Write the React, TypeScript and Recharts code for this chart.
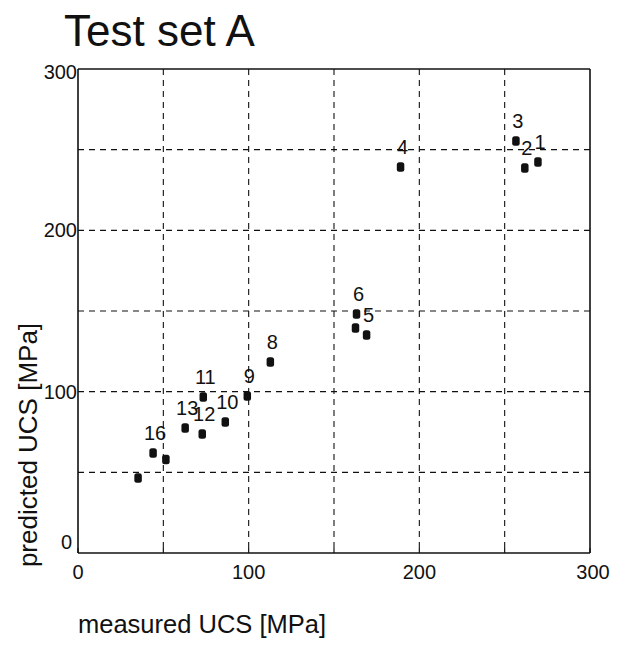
import React from 'react';
import { ScatterChart, Scatter, XAxis, YAxis, CartesianGrid, ReferenceLine, LabelList } from 'recharts';

const pointIds = ['1', '2', '3', '4', '5', '6', '7', '8', '9', '10', '11', '12', '13', '14', '15', '16'];
const measuredUCS = [269.5, 261.8, 256.6, 189.0, 169.1, 163.2, 162.6, 112.7, 99.2, 86.3, 73.4, 72.8, 62.8, 51.5, 35.2, 44.0];
const predictedUCS = [242.4, 238.6, 255.4, 239.3, 135.1, 148.1, 139.5, 118.4, 97.3, 81.2, 96.7, 73.8, 77.5, 58.0, 46.5, 62.0];
const shownLabels = [true, true, true, true, true, true, false, true, true, true, true, true, true, false, false, true];
const xTicks = [0, 50, 100, 150, 200, 250, 300];
const yTicks = [0, 100, 200, 300];
const gridValues = [50, 100, 150, 200, 250];

const data = pointIds.map((id, i) => ({
  id,
  x: measuredUCS[i],
  y: predictedUCS[i],
  label: shownLabels[i] ? id : '',
}));

const FONT = '"Liberation Sans", Arial, Helvetica, sans-serif';
const INK = '#111';

const PointShape = (props: any) => {
  const { cx, cy } = props;
  return <rect x={cx - 3.75} y={cy - 4.75} width={7.5} height={9.5} rx={2.5} fill={INK} />;
};

const XTick = (props: any) => {
  const { x, y, payload } = props;
  const v = payload.value;
  const major = v % 100 === 0;
  return (
    <g>
      <line x1={x} x2={x} y1={y} y2={y - 5} stroke={INK} strokeWidth={1.2} />
      {major && (
        <text x={x + (v === 300 ? 3 : 0)} y={y + 26} textAnchor="middle" fontFamily={FONT} fontSize={20} fill={INK}>
          {v}
        </text>
      )}
    </g>
  );
};

const YTick = (props: any) => {
  const { x, y, payload } = props;
  const v = payload.value;
  let dy = 7;
  let dx = -1;
  if (v === 0) {
    dy = -4;
    dx = -6;
  }
  if (v === 300) dy = 10;
  return (
    <text x={x + dx} y={y + dy} textAnchor="end" fontFamily={FONT} fontSize={20} fill={INK}>
      {v}
    </text>
  );
};

const PointLabel = (props: any) => {
  const { x, y, width, height, value } = props;
  if (!value) return null;
  const cx = x + (width || 0) / 2;
  const cy = y + (height || 0) / 2;
  return (
    <text x={cx + 2} y={cy - 13} textAnchor="middle" fontFamily={FONT} fontSize={20} fill={INK}>
      {value}
    </text>
  );
};

export default function App() {
  return (
    <div style={{ position: 'absolute', left: 0, top: 0, width: 622, height: 646, background: '#fff' }}>
      <ScatterChart
        width={622}
        height={646}
        margin={{ top: 69, right: 32, bottom: 63, left: 38 }}
      >
        <CartesianGrid
          stroke={INK}
          strokeWidth={1.1}
          strokeDasharray="6 5"
          horizontalValues={gridValues}
          verticalValues={gridValues}
        />
        <XAxis
          type="number"
          dataKey="x"
          domain={[0, 300]}
          ticks={xTicks}
          height={30}
          tickSize={0}
          tickMargin={0}
          tickLine={false}
          axisLine={{ stroke: INK, strokeWidth: 1.6 }}
          tick={<XTick />}
          interval={0}
          allowDataOverflow
        />
        <YAxis
          type="number"
          dataKey="y"
          domain={[0, 300]}
          ticks={yTicks}
          width={40}
          tickSize={0}
          tickMargin={0}
          tickLine={false}
          axisLine={{ stroke: INK, strokeWidth: 1.6 }}
          tick={<YTick />}
          interval={0}
          allowDataOverflow
        />
        <ReferenceLine y={300} stroke={INK} strokeWidth={1.6} />
        <ReferenceLine x={300} stroke={INK} strokeWidth={1.6} />
        <Scatter data={data} shape={<PointShape />} isAnimationActive={false}>
          <LabelList dataKey="label" content={<PointLabel />} />
        </Scatter>
      </ScatterChart>
      <svg
        width={622}
        height={646}
        style={{ position: 'absolute', left: 0, top: 0, pointerEvents: 'none' }}
      >
        <text x={64} y={46} fontFamily={FONT} fontSize={44} fill={INK}>
          Test set A
        </text>
        <text x={78} y={633} fontFamily={FONT} fontSize={25.5} fill={INK}>
          measured UCS [MPa]
        </text>
        <text
          x={0}
          y={0}
          transform="translate(37, 445) rotate(-90)"
          textAnchor="middle"
          fontFamily={FONT}
          fontSize={26}
          fill={INK}
        >
          predicted UCS [MPa]
        </text>
      </svg>
    </div>
  );
}
